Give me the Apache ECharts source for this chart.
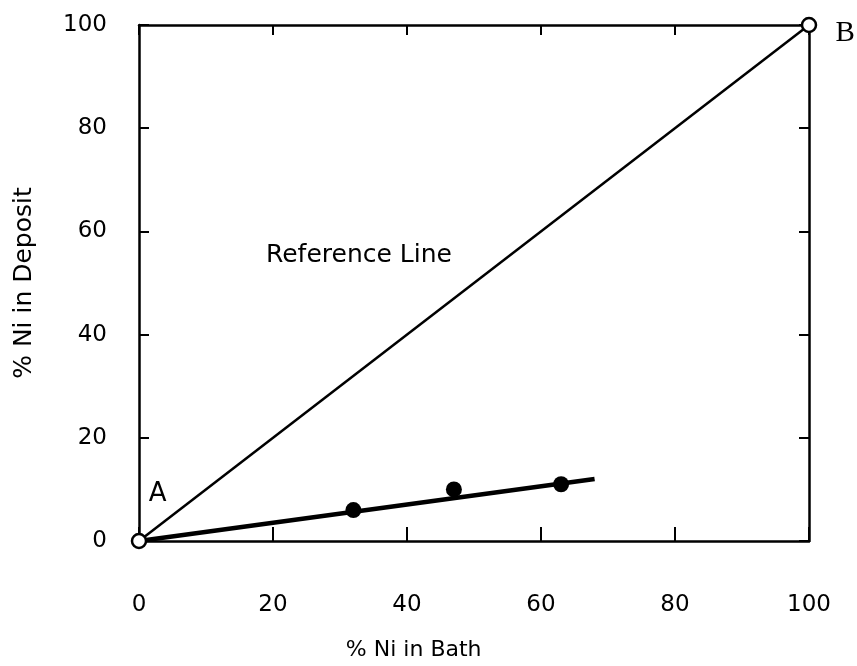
<!DOCTYPE html>
<html>
<head>
<meta charset="utf-8">
<style>
  html, body { margin: 0; padding: 0; background: #fff; }
  #chart { width: 857px; height: 666px; }
</style>
<script src="https://cdn.jsdelivr.net/npm/echarts@6/dist/echarts.min.js"></script>
</head>
<body>
<div id="chart"></div>
<script>
// Nickel content of the deposit against nickel content of the plating bath
const xTicks = [0, 20, 40, 60, 80, 100];
const yTicks = [0, 20, 40, 60, 80, 100];
const referenceLine = [[0, 0], [100, 100]];   // deposit composition equal to bath (A to B)
const measured = [[32, 6], [47, 10], [63, 11]]; // measured deposits
const fitLine = [[0, 0], [68, 12]];            // trend through the measurements

const FONT = '"DejaVu Sans", sans-serif';
const INK = '#000';

const chart = echarts.init(document.getElementById('chart'), null, { renderer: 'canvas' });

function frameAxis(extra) {
  return Object.assign({
    type: 'value',
    min: 0,
    max: 100,
    interval: 20,
    axisLine: { show: true, onZero: false, lineStyle: { color: INK, width: 2.5 } },
    axisTick: { show: true, inside: true, length: 10, lineStyle: { color: INK, width: 2 } },
    splitLine: { show: false },
    axisLabel: { show: false }
  }, extra);
}

chart.setOption({
  animation: false,
  backgroundColor: '#fff',
  grid: { left: 139, top: 25, right: 48, bottom: 125 },
  xAxis: [
    frameAxis({
      position: 'bottom',
      axisTick: { show: true, inside: true, length: 14, lineStyle: { color: INK, width: 2 } },
      axisLabel: {
        show: true, margin: 53, color: INK, fontFamily: FONT, fontSize: 23,
        formatter: v => (xTicks.includes(v) ? String(v) : '')
      }
    }),
    frameAxis({ position: 'top' })
  ],
  yAxis: [
    frameAxis({
      position: 'left',
      axisLabel: {
        show: true, margin: 32, color: INK, fontFamily: FONT, fontSize: 23,
        formatter: v => (yTicks.includes(v) ? String(v) : '')
      }
    }),
    frameAxis({ position: 'right' })
  ],
  series: [
    {
      type: 'line',
      data: fitLine,
      showSymbol: false,
      lineStyle: { color: INK, width: 4.5 },
      z: 3
    },
    {
      type: 'scatter',
      data: measured,
      symbol: 'circle',
      symbolSize: 16,
      itemStyle: { color: INK, opacity: 1 },
      z: 4
    },
    {
      type: 'line',
      data: referenceLine,
      symbol: 'circle',
      symbolSize: 14,
      showAllSymbol: true,
      lineStyle: { color: INK, width: 2.5 },
      itemStyle: { color: '#fff', borderColor: INK, borderWidth: 2.5 },
      z: 5
    }
  ]
});

// Annotations placed in data coordinates
function at(x, y) { return chart.convertToPixel({ xAxisIndex: 0, yAxisIndex: 0 }, [x, y]); }
const pA = at(2.8, 9.1);
const pB = at(105.4, 98.4);
const pRef = at(18.8, 55.4);
const xMid = at(41, 0);
const yMid = at(0, 50);

function label(text, x, y, size, family, extra) {
  return Object.assign({
    type: 'text', x: x, y: y,
    style: { text: text, fill: INK, fontSize: size, fontFamily: family, align: 'center', verticalAlign: 'middle' }
  }, extra || {});
}

chart.setOption({
  graphic: [
    label('Reference Line', pRef[0] + 94, pRef[1], 25, FONT),
    label('A', pA[0], pA[1], 26, FONT),
    label('B', pB[0], pB[1], 29, '"Liberation Serif", serif'),
    label('% Ni in Bath', xMid[0], 650, 22, FONT),
    label('% Ni in Deposit', 24, yMid[1], 25, FONT, { rotation: Math.PI / 2 })
  ]
});
</script>
</body>
</html>
